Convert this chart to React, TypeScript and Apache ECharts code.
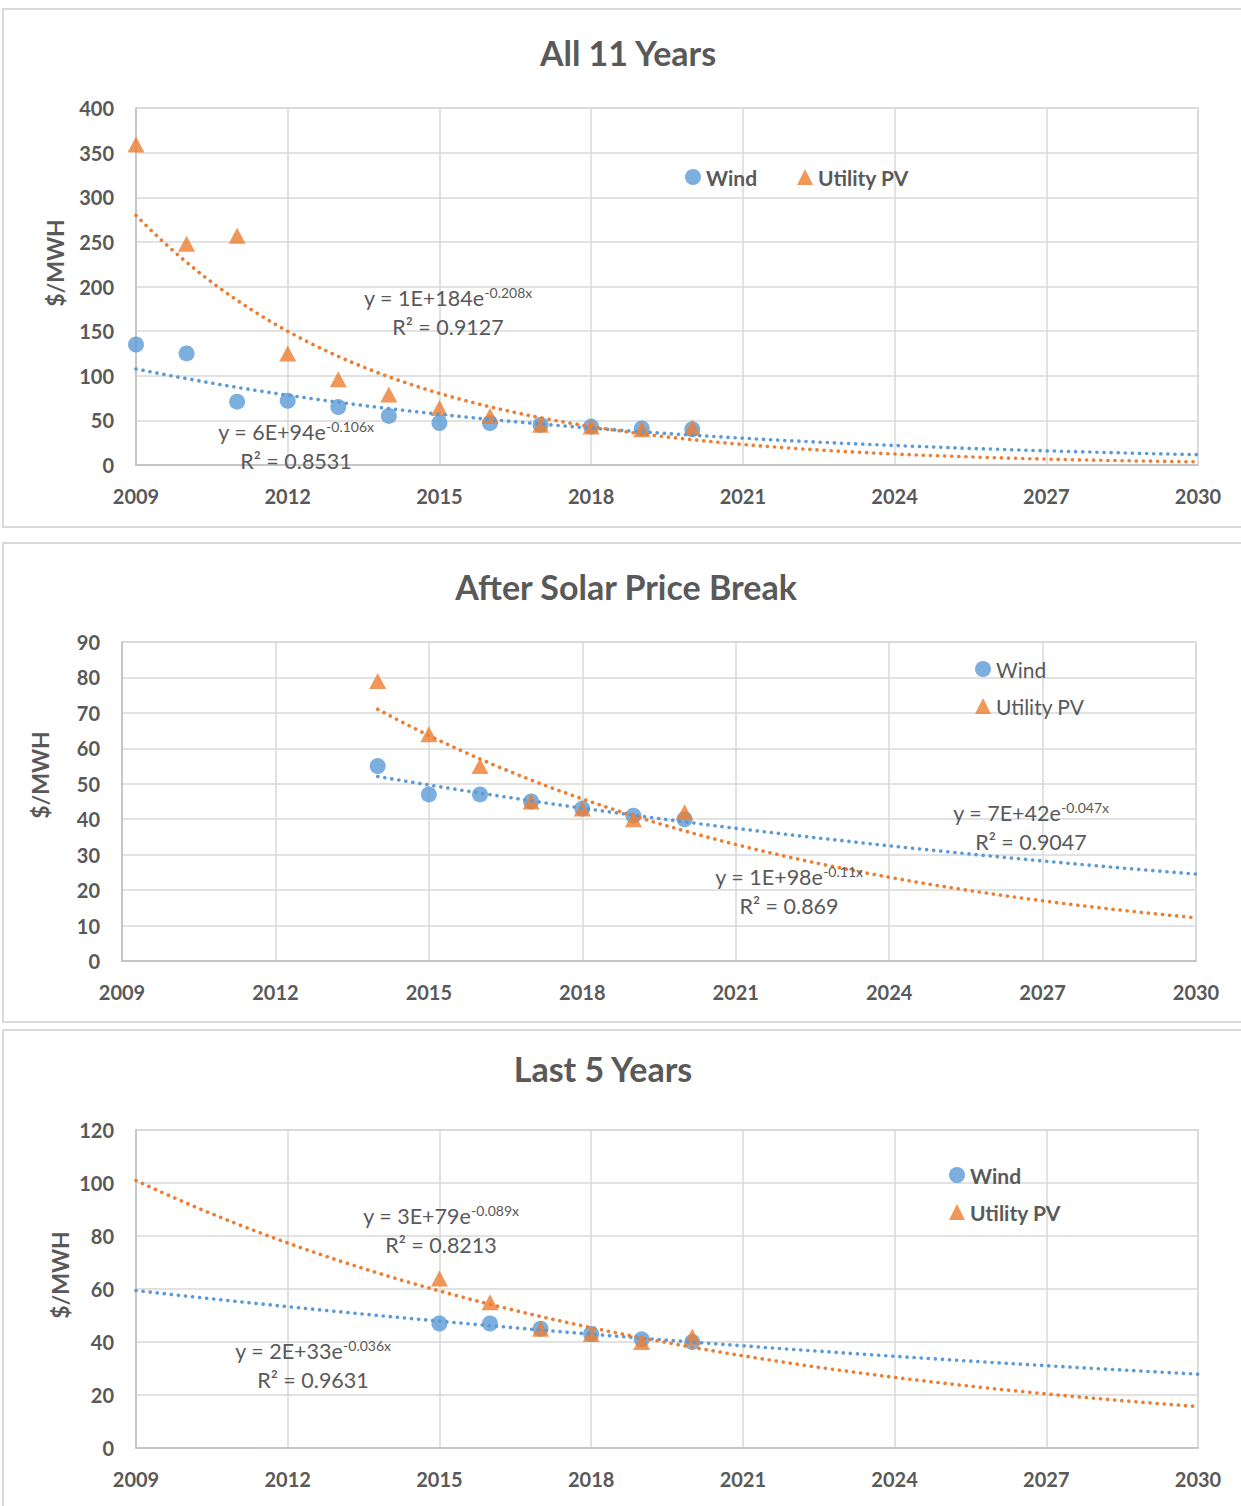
import React, { useEffect, useRef } from "react";
import * as echarts from "echarts";

// Axis range shared by all three charts (years)
const BASE_YEAR = 2009;
const END_YEAR = 2030;
const YEAR_STEP = 3;

// ---- All 11 Years ----
const allYears = [2009, 2010, 2011, 2012, 2013, 2014, 2015, 2016, 2017, 2018, 2019, 2020];
const allWind = [135, 125, 71, 72, 65, 55, 47, 47, 45, 43, 41, 40];
const allPV = [359, 248, 257, 125, 96, 79, 64, 55, 45, 43, 40, 42];
const allYTicks = { max: 400, interval: 50 };

// ---- After Solar Price Break ----
const breakYears = [2014, 2015, 2016, 2017, 2018, 2019, 2020];
const breakWind = [55, 47, 47, 45, 43, 41, 40];
const breakPV = [79, 64, 55, 45, 43, 40, 42];
const breakYTicks = { max: 90, interval: 10 };

// ---- Last 5 Years ----
const lastYears = [2015, 2016, 2017, 2018, 2019, 2020];
const lastWind = [47, 47, 45, 43, 41, 40];
const lastPV = [64, 55, 45, 43, 40, 42];
const lastYTicks = { max: 120, interval: 20 };

// Trendline spans (years)
const allTrendSpan = [2009, 2030];
const breakTrendSpan = [2014, 2030];
const lastTrendSpan = [2009, 2030];

const titles = ["All 11 Years", "After Solar Price Break", "Last 5 Years"];
const seriesNames = ["Wind", "Utility PV"];
const yAxisTitle = "$/MWH";

// Trendline equation labels: [coefficient part, exponent, R²]
const allEqPV = ["y = 1E+184e", "-0.208x", "R² = 0.9127"];
const allEqWind = ["y = 6E+94e", "-0.106x", "R² = 0.8531"];
const breakEqWind = ["y = 7E+42e", "-0.047x", "R² = 0.9047"];
const breakEqPV = ["y = 1E+98e", "-0.11x", "R² = 0.869"];
const lastEqPV = ["y = 3E+79e", "-0.089x", "R² = 0.8213"];
const lastEqWind = ["y = 2E+33e", "-0.036x", "R² = 0.9631"];

const WIND_COLOR = "#5B9BD5";
const PV_COLOR = "#ED7D31";
const TEXT_COLOR = "#595959";
const GRID_COLOR = "#D9D9D9";
const AXIS_COLOR = "#BFBFBF";
const FONT = "Lato, 'Open Sans', sans-serif";

// Least-squares fit of ln(y) = ln(a) + b·x, returns y(x)
function expFit(xs: number[], ys: number[]) {
  const n = xs.length;
  const ly = ys.map((v) => Math.log(v));
  const mx = xs.reduce((s, v) => s + v, 0) / n;
  const my = ly.reduce((s, v) => s + v, 0) / n;
  let sxy = 0;
  let sxx = 0;
  for (let i = 0; i < n; i++) {
    sxy += (xs[i] - mx) * (ly[i] - my);
    sxx += (xs[i] - mx) * (xs[i] - mx);
  }
  const b = sxy / sxx;
  const lnA = my - b * mx;
  return (x: number) => Math.exp(lnA + b * x);
}

function trendCurve(years: number[], values: number[], span: number[]) {
  const xs = years.map((y) => y - BASE_YEAR);
  const f = expFit(xs, values);
  const pts: number[][] = [];
  const s = span[0] - BASE_YEAR;
  const e = span[1] - BASE_YEAR;
  for (let x = s; x <= e + 1e-9; x += 0.25) pts.push([x, f(x)]);
  return pts;
}

const toPoints = (years: number[], values: number[]) =>
  years.map((y, i) => [y - BASE_YEAR, values[i]]);

function buildSeries(
  idx: number,
  years: number[],
  wind: number[],
  pv: number[],
  span: number[]
) {
  const dotted = (color: string) => ({
    color,
    width: 3.6,
    type: [0.1, 7],
    cap: "round",
  });
  return [
    {
      name: seriesNames[0],
      type: "scatter",
      xAxisIndex: idx,
      yAxisIndex: idx,
      symbol: "circle",
      symbolSize: 16,
      itemStyle: { color: WIND_COLOR },
      data: toPoints(years, wind),
      z: 3,
    },
    {
      name: seriesNames[1],
      type: "scatter",
      xAxisIndex: idx,
      yAxisIndex: idx,
      symbol: "triangle",
      symbolSize: [17, 16],
      itemStyle: { color: PV_COLOR },
      data: toPoints(years, pv),
      z: 3,
    },
    {
      name: "Wind trend",
      type: "line",
      xAxisIndex: idx,
      yAxisIndex: idx,
      showSymbol: false,
      symbol: "none",
      lineStyle: dotted(WIND_COLOR),
      data: trendCurve(years, wind, span),
      z: 4,
    },
    {
      name: "Utility PV trend",
      type: "line",
      xAxisIndex: idx,
      yAxisIndex: idx,
      showSymbol: false,
      symbol: "none",
      lineStyle: dotted(PV_COLOR),
      data: trendCurve(years, pv, span),
      z: 4,
    },
  ];
}

const labelStyle = {
  color: TEXT_COLOR,
  fontFamily: FONT,
  fontWeight: "bold",
  fontSize: 20,
};

function xAxisFor(idx: number) {
  return {
    type: "value",
    gridIndex: idx,
    min: 0,
    max: END_YEAR - BASE_YEAR,
    interval: YEAR_STEP,
    axisLine: { show: true, lineStyle: { color: AXIS_COLOR, width: 1.5 } },
    axisTick: { show: false },
    splitLine: { show: true, lineStyle: { color: GRID_COLOR, width: 1.5 } },
    axisLabel: {
      ...labelStyle,
      margin: 21,
      formatter: (v: number) => String(BASE_YEAR + v),
    },
  };
}

function yAxisFor(idx: number, ticks: { max: number; interval: number }) {
  return {
    type: "value",
    gridIndex: idx,
    min: 0,
    max: ticks.max,
    interval: ticks.interval,
    axisLine: { show: true, lineStyle: { color: AXIS_COLOR, width: 1.5 } },
    axisTick: { show: false },
    splitLine: { show: true, lineStyle: { color: GRID_COLOR, width: 1.5 } },
    axisLabel: { ...labelStyle, margin: 22 },
  };
}

function equation(eq: string[], cx: number, cy: number) {
  return [
    {
      type: "text",
      x: cx,
      y: cy,
      silent: true,
      style: {
        text: `{b|${eq[0]}}{s|${eq[1]}}`,
        align: "center",
        verticalAlign: "middle",
        fill: TEXT_COLOR,
        rich: {
          b: { fontFamily: FONT, fontSize: 21.5, color: TEXT_COLOR },
          s: {
            fontFamily: FONT,
            fontSize: 14,
            color: TEXT_COLOR,
            padding: [0, 0, 12, 0],
          },
        },
      },
      z: 10,
    },
    {
      type: "text",
      x: cx,
      y: cy + 29,
      silent: true,
      style: {
        text: eq[2],
        align: "center",
        verticalAlign: "middle",
        fill: TEXT_COLOR,
        fontFamily: FONT,
        fontSize: 21.5,
      },
      z: 10,
    },
  ];
}

function heading(text: string, cx: number, cy: number) {
  return {
    type: "text",
    x: cx,
    y: cy,
    silent: true,
    style: {
      text,
      align: "center",
      verticalAlign: "middle",
      fill: TEXT_COLOR,
      fontFamily: FONT,
      fontWeight: "bold",
      fontSize: 34,
    },
  };
}

function axisTitle(cx: number, cy: number) {
  return {
    type: "text",
    x: cx,
    y: cy,
    rotation: Math.PI / 2,
    silent: true,
    style: {
      text: yAxisTitle,
      align: "center",
      verticalAlign: "middle",
      fill: TEXT_COLOR,
      fontFamily: FONT,
      fontWeight: "bold",
      fontSize: 23,
    },
  };
}

function panel(y: number, h: number) {
  return {
    type: "rect",
    silent: true,
    shape: { x: 3, y, width: 1300, height: h },
    style: { fill: "none", stroke: GRID_COLOR, lineWidth: 2 },
    z: -1,
  };
}

function legendFor(
  left: number,
  top: number,
  orient: "horizontal" | "vertical",
  bold: boolean,
  gap: number
) {
  return {
    data: seriesNames,
    left,
    top,
    orient,
    itemWidth: 16,
    itemHeight: 16,
    itemGap: gap,
    selectedMode: false,
    textStyle: {
      color: TEXT_COLOR,
      fontFamily: FONT,
      fontWeight: bold ? "bold" : "normal",
      fontSize: 21,
      lineHeight: 24,
    },
  };
}

export default function App() {
  const ref = useRef<HTMLDivElement>(null);

  useEffect(() => {
    if (!ref.current) return;
    const chart = echarts.init(ref.current, undefined, { renderer: "svg" });

    const option = {
      animation: false,
      backgroundColor: "#FFFFFF",
      grid: [
        { left: 136, right: 43, top: 108, height: 357, show: true, borderColor: GRID_COLOR, borderWidth: 1.5 },
        { left: 122, right: 45, top: 642, height: 319, show: true, borderColor: GRID_COLOR, borderWidth: 1.5 },
        { left: 136, right: 43, top: 1130, height: 318, show: true, borderColor: GRID_COLOR, borderWidth: 1.5 },
      ],
      xAxis: [xAxisFor(0), xAxisFor(1), xAxisFor(2)],
      yAxis: [yAxisFor(0, allYTicks), yAxisFor(1, breakYTicks), yAxisFor(2, lastYTicks)],
      legend: [
        legendFor(680, 160, "horizontal", true, 40),
        legendFor(970, 652, "vertical", false, 13),
        legendFor(944, 1158, "vertical", true, 13),
      ],
      series: [
        ...buildSeries(0, allYears, allWind, allPV, allTrendSpan),
        ...buildSeries(1, breakYears, breakWind, breakPV, breakTrendSpan),
        ...buildSeries(2, lastYears, lastWind, lastPV, lastTrendSpan),
      ],
      graphic: [
        panel(9, 518),
        panel(543, 479),
        panel(1030, 500),
        heading(titles[0], 628, 52),
        heading(titles[1], 626, 586),
        heading(titles[2], 603, 1068),
        axisTitle(55, 263),
        axisTitle(40, 775),
        axisTitle(60, 1275),
        ...equation(allEqPV, 448, 298),
        ...equation(allEqWind, 296, 432),
        ...equation(breakEqWind, 1031, 813),
        ...equation(breakEqPV, 789, 877),
        ...equation(lastEqPV, 441, 1216),
        ...equation(lastEqWind, 313, 1351),
      ],
    };

    chart.setOption(option as any);
    return () => chart.dispose();
  }, []);

  return (
    <div
      ref={ref}
      style={{ position: "absolute", left: 0, top: 0, width: 1241, height: 1506 }}
    />
  );
}
